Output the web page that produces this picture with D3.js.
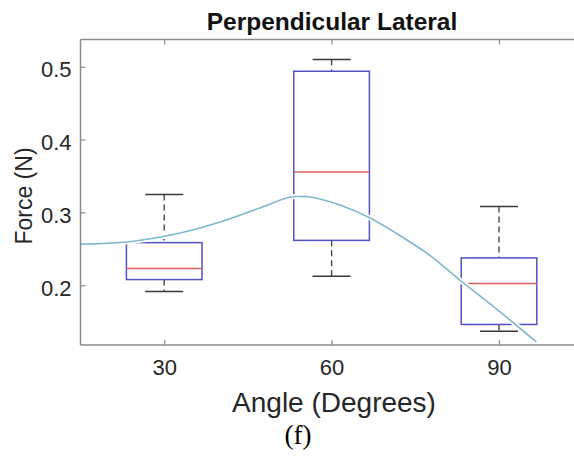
<!DOCTYPE html>
<html>
<head>
<meta charset="utf-8">
<script src="https://cdn.jsdelivr.net/npm/d3@7"></script>
<style>
  html, body { margin: 0; padding: 0; background: #fff; }
  svg { display: block; }
</style>
</head>
<body>
<svg id="chart" width="574" height="460"></svg>
<script>
// Angle groups and their box statistics (Force in N)
const angles = [30, 60, 90];
const lowerWhisker = [0.1915, 0.2123, 0.1370];
const q1 = [0.2078, 0.2616, 0.1462];
const median = [0.2229, 0.3553, 0.2023];
const q3 = [0.2585, 0.4937, 0.2375];
const upperWhisker = [0.3247, 0.5100, 0.3082];

// Fitted trend curve: angle (deg) and force (N)
const fitAngle = [15.0, 16.5, 23.2, 29.1, 35.1, 41.1, 47.0, 52.4, 54.4, 56.2, 61.5, 66.9, 72.3, 77.6, 83.0, 90.2, 96.7];
const fitForce = [0.2565, 0.2567, 0.2594, 0.2659, 0.2759, 0.2896, 0.3057, 0.3208, 0.3219, 0.3212, 0.3102, 0.2924, 0.2680, 0.2410, 0.2070, 0.1634, 0.1222];

const xTicks = [30, 60, 90];
const yTicks = [0.2, 0.3, 0.4, 0.5];

const svg = d3.select("#chart");
const plotLeft = 80.5, plotRight = 582.7, plotTop = 39.5, plotBottom = 345;

const x = d3.scaleLinear().domain([15, 105]).range([plotLeft, plotRight]);
const y = d3.scaleLinear().domain([0.118, 0.5373]).range([plotBottom, plotTop]);

const axisColor = "#8a8a8a";
const textColor = "#262626";
const font = "'Liberation Sans', Arial, Helvetica, sans-serif";

// Boxes
const boxHalf = 37.8;   // px half width of each box
const capHalf = 19;

const g = svg.append("g");
angles.forEach((a, i) => {
  const cx = x(a);
  // whiskers (dashed)
  g.append("line").attr("x1", cx).attr("x2", cx)
    .attr("y1", y(upperWhisker[i])).attr("y2", y(q3[i]))
    .attr("stroke", "#3a3a3a").attr("stroke-width", 1.3).attr("stroke-dasharray", "6,4");
  g.append("line").attr("x1", cx).attr("x2", cx)
    .attr("y1", y(q1[i])).attr("y2", y(lowerWhisker[i]))
    .attr("stroke", "#3a3a3a").attr("stroke-width", 1.3).attr("stroke-dasharray", "6,4");
  // caps
  [upperWhisker[i], lowerWhisker[i]].forEach(v => {
    g.append("line").attr("x1", cx - capHalf).attr("x2", cx + capHalf)
      .attr("y1", y(v)).attr("y2", y(v))
      .attr("stroke", "#3a3a3a").attr("stroke-width", 1.5);
  });
  // box
  g.append("rect").attr("x", cx - boxHalf).attr("y", y(q3[i]))
    .attr("width", boxHalf * 2).attr("height", y(q1[i]) - y(q3[i]))
    .attr("fill", "none").attr("stroke", "#5050c8").attr("stroke-width", 1.5);
  // median
  g.append("line").attr("x1", cx - boxHalf).attr("x2", cx + boxHalf)
    .attr("y1", y(median[i])).attr("y2", y(median[i]))
    .attr("stroke", "#e06060").attr("stroke-width", 1.5);
});

// Trend curve with a thin white halo underneath
const fitData = fitAngle.map((a, i) => [a, fitForce[i]]);
const line = d3.line().x(d => x(d[0])).y(d => y(d[1])).curve(d3.curveCatmullRom.alpha(0.5));
svg.append("path").datum(fitData).attr("d", line)
  .attr("fill", "none").attr("stroke", "#ffffff").attr("stroke-width", 5);
svg.append("path").datum(fitData).attr("d", line)
  .attr("fill", "none").attr("stroke", "#7eb8c9").attr("stroke-width", 1.6);

// Axes frame
svg.append("line").attr("x1", plotLeft).attr("x2", plotRight).attr("y1", plotBottom).attr("y2", plotBottom)
  .attr("stroke", axisColor).attr("stroke-width", 1.5);
svg.append("line").attr("x1", plotLeft).attr("x2", plotRight).attr("y1", plotTop).attr("y2", plotTop)
  .attr("stroke", axisColor).attr("stroke-width", 1.5);
svg.append("line").attr("x1", plotLeft).attr("x2", plotLeft).attr("y1", plotTop).attr("y2", plotBottom)
  .attr("stroke", axisColor).attr("stroke-width", 1.5);

// Bottom axis
const xAxis = d3.axisBottom(x).tickValues(xTicks).tickSize(-5).tickPadding(14).tickFormat(d3.format("d"));
const gx = svg.append("g").attr("transform", `translate(0,${plotBottom})`).call(xAxis);
gx.select(".domain").remove();
gx.selectAll(".tick line").attr("stroke", axisColor).attr("stroke-width", 1.2);
gx.selectAll(".tick text").attr("fill", textColor).attr("font-family", font).attr("font-size", 22);

// Top ticks
const gxt = svg.append("g").attr("transform", `translate(0,${plotTop})`)
  .call(d3.axisTop(x).tickValues(xTicks).tickSize(-5).tickFormat(""));
gxt.select(".domain").remove();
gxt.selectAll(".tick line").attr("stroke", axisColor).attr("stroke-width", 1.2);

// Left axis
const yAxis = d3.axisLeft(y).tickValues(yTicks).tickSize(-5).tickPadding(9).tickFormat(d3.format(".1f"));
const gy = svg.append("g").attr("transform", `translate(${plotLeft},0)`).call(yAxis);
gy.select(".domain").remove();
gy.selectAll(".tick line").attr("stroke", axisColor).attr("stroke-width", 1.2);
gy.selectAll(".tick text").attr("fill", textColor).attr("font-family", font).attr("font-size", 22)
  .attr("dy", "0.45em");

// Titles
svg.append("text").attr("x", 332).attr("y", 30).attr("text-anchor", "middle")
  .attr("font-family", font).attr("font-weight", "bold").attr("font-size", 24.5)
  .attr("fill", "#111").text("Perpendicular Lateral");

svg.append("text").attr("transform", "translate(32,196) rotate(-90)").attr("text-anchor", "middle")
  .attr("font-family", font).attr("font-size", 23).attr("fill", textColor).text("Force (N)");

svg.append("text").attr("x", 334).attr("y", 412).attr("text-anchor", "middle")
  .attr("font-family", font).attr("font-size", 28).attr("fill", textColor).text("Angle (Degrees)");

svg.append("text").attr("x", 298).attr("y", 444).attr("text-anchor", "middle")
  .attr("font-family", "'Liberation Serif', 'Times New Roman', serif").attr("font-size", 27)
  .attr("fill", "#000").text("(f)");
</script>
</body>
</html>
